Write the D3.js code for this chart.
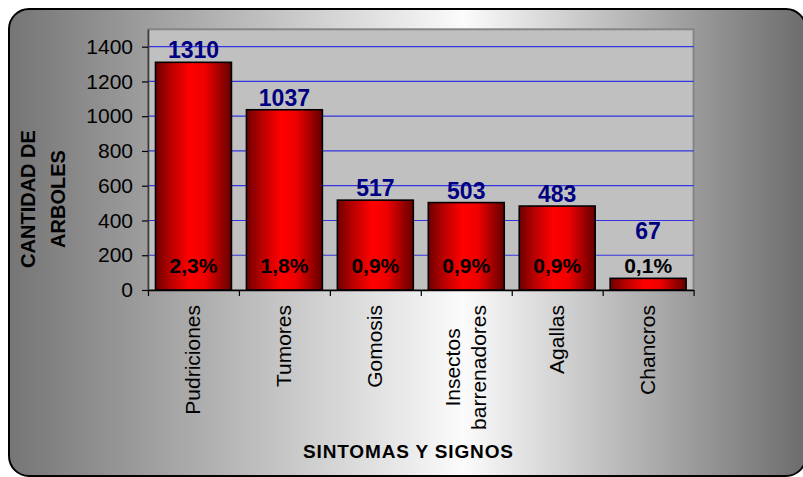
<!DOCTYPE html>
<html><head><meta charset="utf-8">
<script src="https://cdn.jsdelivr.net/npm/d3@7"></script>
<style>html,body{margin:0;padding:0;background:#fff;} svg{display:block;font-family:"Liberation Sans",Arial,sans-serif;}</style>
</head><body><svg id="chart" width="803" height="477"></svg>
<script>
const categories = ["Pudriciones","Tumores","Gomosis","Insectos\nbarrenadores","Agallas","Chancros"];
const counts = [1310,1037,517,503,483,67];
const percentLabels = ["2,3%","1,8%","0,9%","0,9%","0,9%","0,1%"];
const yTicks = [0,200,400,600,800,1000,1200,1400];
const yTitleLines = ["CANTIDAD DE","ARBOLES"];
const xTitle = "SINTOMAS Y SIGNOS";

const svg = d3.select("#chart");
const P = {left:148, top:29.3, right:693.6, bottom:290};

const x = d3.scaleBand().domain(categories).range([P.left, P.right]).paddingInner(0.165).paddingOuter(0.0825);
const y = d3.scaleLinear().domain([0,1500]).range([P.bottom, P.top]);
const xEdges = d3.scaleLinear().domain([0, categories.length]).range([P.left, P.right]);

const defs = svg.append("defs");
const bg = defs.append("linearGradient").attr("id","bgGrad").attr("gradientUnits","userSpaceOnUse")
  .attr("x1",9).attr("x2",806).attr("y1",0).attr("y2",0);
bg.append("stop").attr("offset",0).attr("stop-color","#757575");
bg.append("stop").attr("offset",0.57).attr("stop-color","#fbfbfb");
bg.append("stop").attr("offset",1).attr("stop-color","#6c6c6c");

const bar = defs.append("linearGradient").attr("id","barGrad").attr("x1",0).attr("x2",1).attr("y1",0).attr("y2",0);
bar.append("stop").attr("offset",0).attr("stop-color","#6e0000");
bar.append("stop").attr("offset",0.2).attr("stop-color","#b80000");
bar.append("stop").attr("offset",0.45).attr("stop-color","#ff0000");
bar.append("stop").attr("offset",0.65).attr("stop-color","#f00000");
bar.append("stop").attr("offset",1).attr("stop-color","#640000");

// chart area
svg.append("rect").attr("x",9).attr("y",9).attr("width",797).attr("height",467)
  .attr("rx",20).attr("ry",20).attr("fill","url(#bgGrad)").attr("stroke","#000").attr("stroke-width",2);

// plot area
svg.append("rect").attr("x",P.left).attr("y",P.top).attr("width",P.right-P.left).attr("height",P.bottom-P.top)
  .attr("fill","#c0c0c0").attr("stroke","#858585").attr("stroke-width",2);

// gridlines
svg.append("g").selectAll("line").data(yTicks.filter(d=>d>0)).join("line")
  .attr("x1",P.left).attr("x2",P.right).attr("y1",d=>y(d)).attr("y2",d=>y(d))
  .attr("stroke","#3535e0").attr("stroke-width",1.2);

// bars
svg.append("g").selectAll("rect").data(categories).join("rect")
  .attr("x",d=>x(d)).attr("y",(d,i)=>y(counts[i])).attr("width",x.bandwidth())
  .attr("height",(d,i)=>P.bottom-y(counts[i]))
  .attr("fill","url(#barGrad)").attr("stroke","#000").attr("stroke-width",1.6);

// y axis
const ya = svg.append("g").attr("transform",`translate(${P.left},0)`)
  .call(d3.axisLeft(y).tickValues(yTicks).tickFormat(d3.format("d")).tickSize(6).tickSizeOuter(0).tickPadding(9));
ya.select(".domain").attr("stroke","#3a3a3a").attr("stroke-width",1.6);
ya.selectAll(".tick line").attr("stroke","#000").attr("stroke-width",1.2);
ya.selectAll(".tick text").attr("font-size",21).attr("font-family","Liberation Sans, Arial, sans-serif").attr("fill","#000");

// x axis
const xa = svg.append("g").attr("transform",`translate(0,${P.bottom})`)
  .call(d3.axisBottom(xEdges).tickValues(d3.range(categories.length+1)).tickFormat("").tickSize(6).tickSizeOuter(0));
xa.select(".domain").attr("stroke","#000").attr("stroke-width",1.6);
xa.selectAll(".tick line").attr("stroke","#000").attr("stroke-width",1.2);

// value labels
svg.append("g").selectAll("text").data(categories).join("text")
  .attr("x",d=>x(d)+x.bandwidth()/2)
  .attr("y",(d,i)=>Math.min(y(counts[i]), y(270)) - 4)
  .attr("text-anchor","middle").attr("font-size",23).attr("font-weight","bold").attr("fill","#000080")
  .text((d,i)=>counts[i]);

// percentage labels
svg.append("g").selectAll("text").data(categories).join("text")
  .attr("x",d=>x(d)+x.bandwidth()/2).attr("y",273)
  .attr("text-anchor","middle").attr("font-size",21).attr("font-weight","bold").attr("fill","#000")
  .text((d,i)=>percentLabels[i]);

// category labels (rotated)
const xl = svg.append("g");
categories.forEach(c=>{
  const lines = c.split("\n");
  const cx = x(c)+x.bandwidth()/2;
  const texts = lines.map(l=>xl.append("text").attr("font-size",21).attr("fill","#000").attr("text-anchor","middle").text(l));
  const maxLen = d3.max(texts, t=>t.node().getComputedTextLength());
  const top = 305;
  texts.forEach((t,i)=>{
    const bx = cx + 7 + (i-(lines.length-1)/2)*26;
    t.attr("transform",`translate(${bx},${top+maxLen/2}) rotate(-90)`);
  });
});

// y title
yTitleLines.forEach((l,i)=>{
  svg.append("text").attr("transform",`translate(${35+i*30},199) rotate(-90)`)
    .attr("text-anchor","middle").attr("font-size",20).attr("font-weight","bold").attr("fill","#000").text(l);
});

// x title
svg.append("text").attr("x",408).attr("y",458).attr("text-anchor","middle")
  .attr("font-size",19).attr("font-weight","bold").attr("fill","#000")
  .attr("textLength",210).attr("lengthAdjust","spacing").text(xTitle);
</script></body></html>
